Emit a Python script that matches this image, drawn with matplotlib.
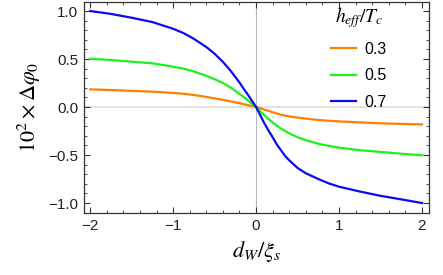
import matplotlib
matplotlib.use("Agg")
import matplotlib.pyplot as plt
from matplotlib.ticker import MultipleLocator

x = [-2.0, -1.75, -1.5, -1.25, -1.0, -0.875, -0.75, -0.6, -0.5, -0.4, -0.3, -0.2, -0.15, -0.1, -0.05,
     0.0, 0.05, 0.1, 0.15, 0.2, 0.25, 0.3, 0.35, 0.4, 0.5, 0.6, 0.75, 0.875, 1.0, 1.25, 1.5, 1.75, 2.0]
y_03 = [0.184, 0.177, 0.168, 0.160, 0.147, 0.138, 0.125, 0.105, 0.090, 0.075, 0.058, 0.040, 0.030, 0.020, 0.010,
        0.0, -0.013, -0.027, -0.040, -0.055, -0.068, -0.080, -0.090, -0.098, -0.110, -0.120, -0.135, -0.143,
        -0.150, -0.160, -0.170, -0.176, -0.181]
y_05 = [0.503, 0.490, 0.472, 0.455, 0.420, 0.400, 0.370, 0.325, 0.290, 0.250, 0.200, 0.135, 0.105, 0.070, 0.035,
        0.0, -0.045, -0.085, -0.125, -0.160, -0.195, -0.225, -0.250, -0.275, -0.315, -0.345, -0.383, -0.405,
        -0.423, -0.450, -0.468, -0.486, -0.503]
y_07 = [1.000, 0.970, 0.930, 0.885, 0.815, 0.770, 0.710, 0.625, 0.555, 0.470, 0.370, 0.255, 0.190, 0.130, 0.065,
        0.0, -0.085, -0.170, -0.245, -0.315, -0.390, -0.450, -0.510, -0.555, -0.635, -0.690, -0.750, -0.795,
        -0.830, -0.880, -0.925, -0.962, -1.000]
labels = ["0.3", "0.5", "0.7"]
colors = ["#FF8000", "#1EF01E", "#0A0AF0"]

plt.rcParams['font.family'] = ['Liberation Sans', 'DejaVu Sans']
plt.rcParams['mathtext.fontset'] = 'stix'

fig = plt.figure(figsize=(4.43, 2.75), dpi=100)
ax = fig.add_axes([84/443, 1-213/275, (429-84)/443, (213-2)/275])

ax.axvline(0, color="#BBBBBB", lw=0.8, zorder=0)
ax.axhline(0, color="#DDDDDD", lw=1.2, zorder=0)

for ys, lab, c in zip([y_03, y_05, y_07], labels, colors):
    ax.plot(x, ys, color=c, lw=1.6, label=lab)

ax.set_xlim(-2.075, 2.085)
ax.set_ylim(-1.104, 1.094)
ax.xaxis.set_minor_locator(MultipleLocator(0.2))
ax.yaxis.set_minor_locator(MultipleLocator(0.1))
ax.set_yticks([-1.0, -0.5, 0.0, 0.5, 1.0])
ax.set_yticklabels(["\u22121.0", "\u22120.5", "0.0", "0.5", "1.0"])
ax.set_xticks([-2, -1, 0, 1, 2])
ax.set_xticklabels(["\u22122", "\u22121", "0", "1", "2"])

for s in ax.spines.values():
    s.set_color("#333333")
    s.set_linewidth(0.9)
ax.tick_params(which="both", direction="in", top=True, right=True, color="#333333",
               labelsize=11, labelcolor="#222222")
ax.tick_params(which="major", length=4, width=0.8, pad=4)
ax.tick_params(which="minor", length=2.2, width=0.6)

ax.set_xlabel(r"$d_W/\xi_s$", fontsize=16, labelpad=5)
ax.set_ylabel(r"$10^2\times\Delta\varphi_0$", fontsize=16, labelpad=4)

leg = ax.legend(title=r"$h_{eff}/T_c$", loc="upper right", frameon=False,
                fontsize=11.5, title_fontsize=14, handlelength=1.6, labelspacing=0.72,
                handletextpad=0.5, bbox_to_anchor=(0.905, 1.03), borderaxespad=0.2)
leg._legend_box.align = "center"

fig.savefig("out.png", dpi=100)
